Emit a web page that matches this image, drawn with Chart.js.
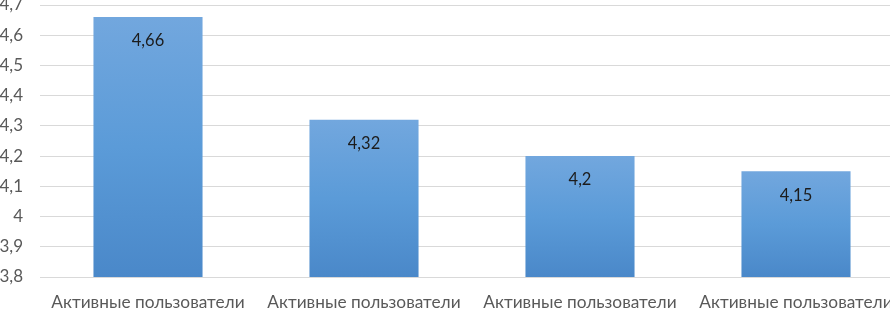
<!DOCTYPE html>
<html>
<head>
<meta charset="utf-8">
<script src="https://cdn.jsdelivr.net/npm/chart.js@4/dist/chart.umd.min.js"></script>
<style>
  html, body { margin: 0; padding: 0; background: #fff; overflow: hidden; }
  #wrap { position: absolute; left: -10px; top: 0; width: 924px; height: 309px; }
</style>
</head>
<body>
<div id="wrap"><canvas id="myChart"></canvas></div>
<script>
const categories = ['Активные пользователи', 'Активные пользователи', 'Активные пользователи', 'Активные пользователи'];
const values = [4.66, 4.32, 4.2, 4.15];
const yMin = 3.8;
const yMax = 4.7;
const yStep = 0.1;

function fmt(v) {
  return String(Number(v.toFixed(2))).replace('.', ',');
}

// gradient for each bar, lighter at top
function barGradient(context) {
  const chart = context.chart;
  const y = chart.scales.y;
  if (!chart.chartArea || !y) return '#5b9bd5';
  const v = context.raw;
  const top = y.getPixelForValue(v);
  const bottom = y.getPixelForValue(yMin);
  const g = chart.ctx.createLinearGradient(0, top, 0, bottom);
  g.addColorStop(0, '#72a7de');
  g.addColorStop(0.5, '#5b9bd8');
  g.addColorStop(1, '#4a88c9');
  return g;
}

// labels inside bars
const valueLabels = {
  id: 'valueLabels',
  afterDatasetsDraw(chart) {
    const ctx = chart.ctx;
    const meta = chart.getDatasetMeta(0);
    ctx.save();
    ctx.font = '16.5px Lato';
    ctx.fillStyle = '#1c1c1c';
    ctx.textAlign = 'center';
    ctx.textBaseline = 'middle';
    meta.data.forEach((bar, i) => {
      ctx.fillText(fmt(values[i]), bar.x, bar.y + 24);
    });
    ctx.restore();
  }
};

const ctx = document.getElementById('myChart').getContext('2d');
new Chart(ctx, {
  type: 'bar',
  data: {
    labels: categories,
    datasets: [{
      data: values,
      backgroundColor: barGradient,
      borderWidth: 0,
      barPercentage: 0.505,
      categoryPercentage: 1
    }]
  },
  options: {
    responsive: true,
    maintainAspectRatio: false,
    animation: false,
    layout: { padding: { top: 5, right: 10, bottom: 0, left: 0 } },
    plugins: {
      legend: { display: false },
      tooltip: { enabled: false }
    },
    scales: {
      x: {
        grid: { display: false },
        border: { display: false },
        ticks: {
          color: '#595959',
          font: { family: 'Lato', size: 17.3 },
          padding: 7,
          maxRotation: 0,
          autoSkip: false
        },
        afterFit(scale) { scale.height = 32; }
      },
      y: {
        min: yMin,
        max: yMax,
        border: { display: false },
        grid: { color: '#d9d9d9', lineWidth: 1, drawTicks: false },
        ticks: {
          stepSize: yStep,
          color: '#595959',
          font: { family: 'Lato', size: 17 },
          padding: 17,
          callback: (v) => String(Number(v.toFixed(1))).replace('.', ',')
        },
        afterFit(scale) {
          scale.width = 50;
          scale.paddingTop = 0;
          scale.paddingBottom = 0;
        }
      }
    }
  },
  plugins: [valueLabels]
});
</script>
</body>
</html>
